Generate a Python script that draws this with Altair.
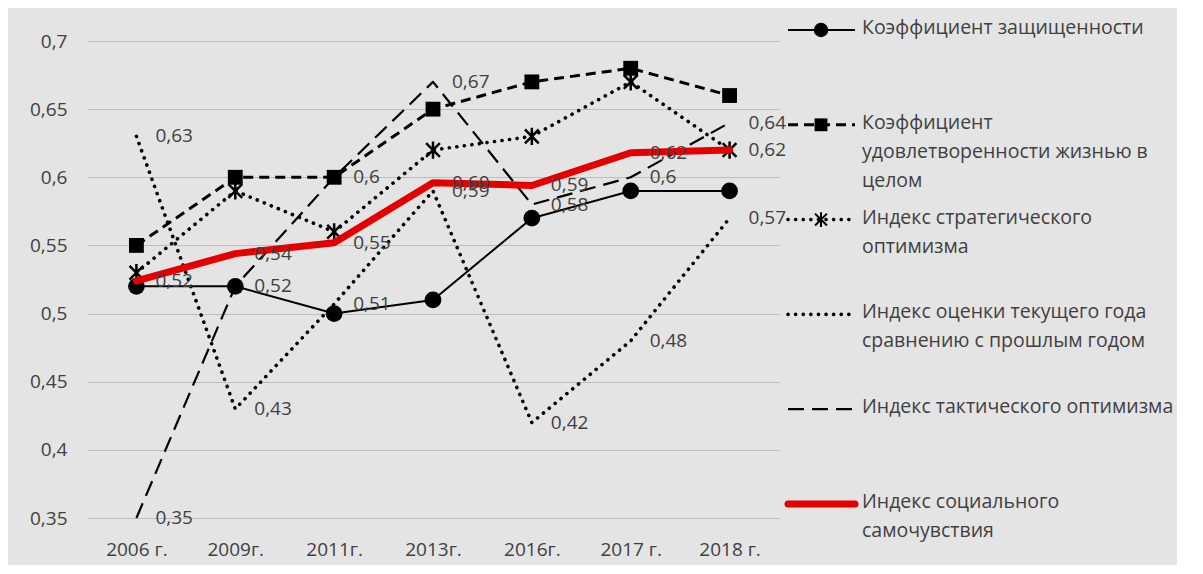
import altair as alt
import pandas as pd

# ---------------- data ----------------
years = ["2006 г.", "2009г.", "2011г.", "2013г.", "2016г.", "2017 г.", "2018 г."]

series_names = [
    "Коэффициент защищенности",
    "Коэффициент удовлетворенности жизнью в целом",
    "Индекс стратегического оптимизма",
    "Индекс оценки текущего года сравнению с прошлым годом",
    "Индекс тактического оптимизма",
    "Индекс социального самочувствия",
]
legend_labels = [
    "Коэффициент защищенности",
    "Коэффициент\nудовлетворенности жизнью в\nцелом",
    "Индекс стратегического\nоптимизма",
    "Индекс оценки текущего года\nсравнению с прошлым годом",
    "Индекс тактического оптимизма",
    "Индекс социального\nсамочувствия",
]

protection = [0.52, 0.52, 0.50, 0.51, 0.57, 0.59, 0.59]
satisfaction = [0.55, 0.60, 0.60, 0.65, 0.67, 0.68, 0.66]
strategic = [0.53, 0.59, 0.56, 0.62, 0.63, 0.67, 0.62]
current_year = [0.63, 0.43, 0.507, 0.59, 0.42, 0.48, 0.57]
tactical = [0.35, 0.52, 0.60, 0.67, 0.58, 0.60, 0.64]
social = [0.524, 0.544, 0.552, 0.596, 0.594, 0.618, 0.62]

y_ticks = [0.35, 0.40, 0.45, 0.50, 0.55, 0.60, 0.65, 0.70]

all_series = [protection, satisfaction, strategic, current_year, tactical, social]

rows = []
for i, vals in enumerate(all_series):
    for yr, v in zip(years, vals):
        rows.append({"s": i, "year": yr, "value": v})
df = pd.DataFrame(rows)
legend_df = pd.DataFrame({"s": list(range(6)), "label": legend_labels})

# ---------------- styles ----------------
FONT = "Open Sans"
TXT = "#404040"
ASTERISK = "M-1,-1L1,1M-1,1L1,-1M0,-1.25L0,1.25"
styles = [
    dict(color="#000000", width=2, dash=None, cap="butt", shape="circle", size=280, filled=True, fmt=None),
    dict(color="#000000", width=3, dash=[10, 6], cap="butt", shape="square", size=220, filled=True, fmt=None),
    dict(color="#000000", width=3.6, dash=[0.1, 7.5], cap="round", shape=ASTERISK, size=190, filled=False, fmt=None),
    dict(color="#000000", width=3.6, dash=[0.1, 7.5], cap="round", shape=None, fmt=".2~f"),
    dict(color="#000000", width=2.2, dash=[16, 8], cap="butt", shape=None, fmt=".2~f"),
    dict(color="#e40000", width=7, dash=None, cap="round", shape=None, fmt=".2f"),
]

W, H = 692, 477

x_enc = alt.X(
    "year:N", sort=years, title=None,
    scale=alt.Scale(type="point", padding=0.5, domain=years),
    axis=alt.Axis(labelAngle=0, domain=False, ticks=False, grid=False,
                  labelPadding=22, labelFontSize=19, labelFont=FONT, labelColor=TXT),
)
y_enc = alt.Y(
    "value:Q", title=None,
    scale=alt.Scale(domain=[0.35, 0.7], nice=False, zero=False),
    axis=alt.Axis(values=y_ticks, domain=False, ticks=False, grid=True,
                  gridColor="#bdbdbd", gridWidth=1, labelPadding=20,
                  labelFontSize=19, labelFont=FONT, labelColor=TXT,
                  labelExpr="replace(format(datum.value, '.2~f'), '.', ',')"),
)

base = alt.Chart(df)
line_layers, point_layers, label_layers = [], [], []
for i, st in enumerate(styles):
    sub = base.transform_filter(alt.datum.s == i)
    kw = dict(color=st["color"], strokeWidth=st["width"], strokeCap=st["cap"], strokeJoin="round")
    if st["dash"]:
        kw["strokeDash"] = st["dash"]
    line_layers.append(sub.mark_line(**kw).encode(x=x_enc, y=y_enc))
    if st["shape"]:
        pk = dict(shape=st["shape"], size=st["size"], opacity=1, color=st["color"])
        if st["filled"]:
            pk.update(filled=True)
        else:
            pk.update(filled=False, strokeWidth=2.5)
        point_layers.append(sub.mark_point(**pk).encode(x=x_enc, y=y_enc))
    if st["fmt"]:
        label_layers.append(
            sub.transform_calculate(
                lbl=f"replace(format(datum.value, '{st['fmt']}'), '.', ',')"
            ).mark_text(align="left", baseline="middle", dx=19, fontSize=19,
                        font=FONT, color=TXT).encode(x=x_enc, y=y_enc, text="lbl:N")
        )

# draw order: lines of series 1-5, markers, red line on top, then labels
main = alt.layer(
    *line_layers[:5], *point_layers, line_layers[5], *label_layers
).properties(width=W, height=H)

# ---------------- legend panel ----------------
ly = alt.Y("s:Q", scale=alt.Scale(domain=[0, 5], range=[-11, 463]), axis=None)
lbase = alt.Chart(legend_df)
leg_layers = []
for i, st in enumerate(styles):
    sub = lbase.transform_filter(alt.datum.s == i)
    kw = dict(color=st["color"], strokeWidth=st["width"], strokeCap=st["cap"])
    if st["dash"]:
        kw["strokeDash"] = st["dash"]
    leg_layers.append(sub.mark_rule(**kw).encode(x=alt.value(9), x2=alt.value(76), y=ly))
    if st["shape"]:
        pk = dict(shape=st["shape"], size=st["size"] * 0.75, opacity=1, color=st["color"])
        if st["filled"]:
            pk.update(filled=True)
        else:
            pk.update(filled=False, strokeWidth=2)
        leg_layers.append(sub.mark_point(**pk).encode(x=alt.value(42), y=ly))
leg_layers.append(
    lbase.mark_text(align="left", baseline="top", dy=-11, lineBreak="\n", lineHeight=29,
                    fontSize=19.5, font=FONT, color=TXT).encode(x=alt.value(83), y=ly, text="label:N")
)
legend = alt.layer(*leg_layers).properties(width=398, height=H)

chart = alt.hconcat(main, legend, spacing=0, bounds="flush").configure(
    background="#e4e4e4",
    padding={"left": 21, "top": 10, "right": 0, "bottom": 6},
).configure_view(stroke=None)

chart.save("out.html", embed_options={"renderer": "svg", "actions": False})
